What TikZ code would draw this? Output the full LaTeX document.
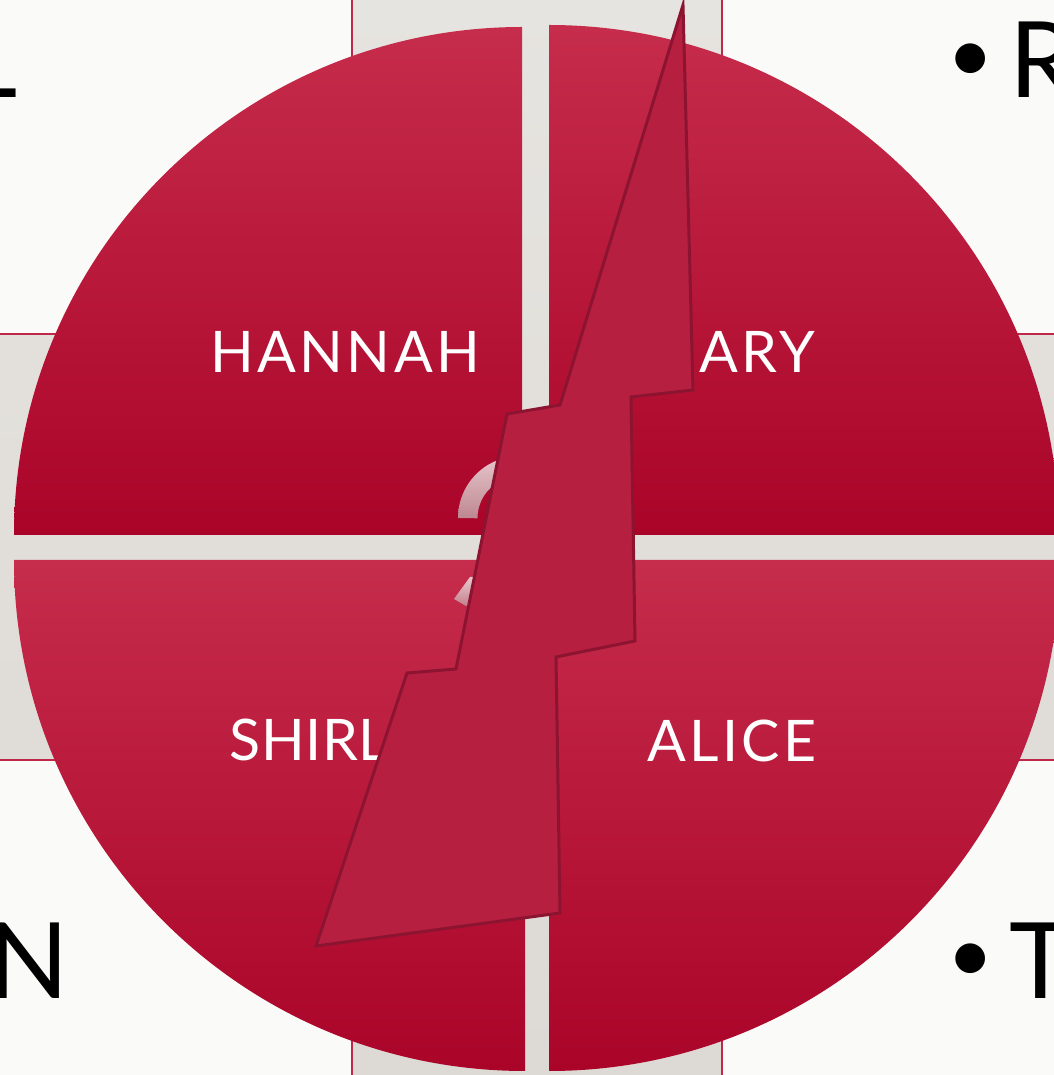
\documentclass[tikz,border=0pt]{standalone}
\usepackage{fontspec}
\setmainfont{Lato}
\definecolor{pagewhite}{RGB}{250,250,248}
\definecolor{crosstop}{RGB}{230,228,224}
\definecolor{crossbot}{RGB}{221,217,212}
\definecolor{crossline}{RGB}{192,40,74}
\definecolor{quadtop}{RGB}{198,44,75}
\definecolor{quadbot}{RGB}{170,4,41}
\definecolor{boltfill}{RGB}{183,31,64}
\definecolor{boltline}{RGB}{140,20,49}
\definecolor{marklight}{RGB}{232,200,205}
\definecolor{markdark}{RGB}{190,135,145}
\usetikzlibrary{positioning}
\newcommand{\bulletdot}{\raisebox{4.3pt}{\fontsize{22.7}{24}\selectfont\textbullet}\hspace{4.5pt}}

\begin{document}
\begin{tikzpicture}[x=0.01cm,y=0.01cm,
  quad/.style={top color=quadtop,bottom color=quadbot,draw=none},
  namelabel/.style={text=white,inner sep=0pt,
    font=\fontsize{16.3}{18}\selectfont\addfontfeatures{LetterSpace=6}},
  edgelabel/.style={text=black,inner sep=0pt,font=\fontsize{30}{34}\selectfont}]
  \useasboundingbox (0,0) rectangle (1054,1075);
  \clip (0,0) rectangle (1054,1075);
  \fill[pagewhite] (0,0) rectangle (1054,1075);

  % Cross behind the circle
  \draw[top color=crosstop,bottom color=crossbot,draw=crossline,line width=0.45pt]
    (352,1090) -- (722,1090) -- (722,741) -- (1070,741) -- (1070,315) -- (722,315)
    -- (722,-15) -- (352,-15) -- (352,315) -- (-15,315) -- (-15,741) -- (352,741) -- cycle;

  % Four quarters of the circle
  \path[quad] (522,540) -- (14,540) arc[start angle=180,end angle=90,radius=508] -- cycle;
  \path[quad] (549,540) -- (549,1050) arc[start angle=90,end angle=0,radius=510] -- cycle;
  \path[quad] (525,515) -- (14,515) arc[start angle=180,end angle=270,radius=511] -- cycle;
  \path[quad] (549,515) -- (549,4) arc[start angle=270,end angle=360,radius=511] -- cycle;

  % Names
  \node[namelabel,anchor=base] (hannah) at (345,702) {HANNAH};
  \node[namelabel,anchor=base east] (mary) at (816,702) {MARY};
  \node[namelabel,anchor=base west,
        font=\fontsize{16.3}{18}\selectfont\addfontfeatures{LetterSpace=1}]
    (shirley) at (229,314) {SHIRLEY};
  \node[namelabel,anchor=base] (alice) at (732,313) {ALICE};

  % Question mark, mostly hidden
  \path[top color=marklight,bottom color=markdark]
    (458,557) arc[start angle=180,end angle=80,radius=62]
    -- ++(-4,-20) arc[start angle=80,end angle=180,radius=42] -- cycle;
  \path[top color=marklight,bottom color=markdark!80!quadtop]
    (454,476) -- (470,498) -- (485,498) -- (485,465) -- (466,469) -- cycle;

  % Lightning bolt
  \draw[fill=boltfill,draw=boltline,line width=0.85pt,line join=miter]
    (683,1070) -- (693,685) -- (631,678) -- (635,434) -- (556,418) -- (560,162)
    -- (316,129) -- (407,402) -- (456,406) -- (507,661) -- (560,670) -- cycle;

  % Words cut by the edges
  \node[edgelabel,anchor=base east] (topleft) at (18,977) {L};
  \node[edgelabel,anchor=base east] (botleft) at (70,77) {N};
  \node[edgelabel,anchor=base west] (topright) at (947,977) {\bulletdot R};
  \node[edgelabel,anchor=base west] (botright) at (947,77) {\bulletdot T};
\end{tikzpicture}
\end{document}
